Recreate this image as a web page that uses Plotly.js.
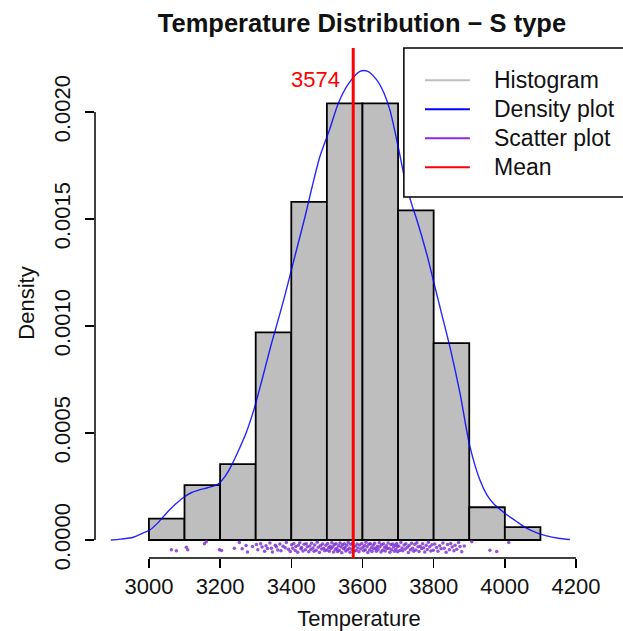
<!DOCTYPE html>
<html>
<head>
<meta charset="utf-8">
<script src="https://cdn.plot.ly/plotly-3.0.1.min.js"></script>
<style>html,body{margin:0;padding:0;background:#fff;}#chart{width:623px;height:631px;}</style>
</head>
<body>
<div id="chart"></div>
<script>
// ---------- DATA ----------
const binStarts = [3000, 3100, 3200, 3300, 3400, 3500, 3600, 3700, 3800, 3900, 4000];
const binWidth = 100;
const binDensity = [0.0001, 0.000256, 0.000355, 0.00097, 0.00158, 0.00204, 0.00204, 0.00154, 0.00092, 0.000153, 0.00006];

const densityX = [2893, 2920, 2956, 2980, 3002, 3025, 3049, 3075, 3100, 3120, 3142, 3165, 3193, 3215, 3235, 3255, 3273, 3296, 3320, 3343, 3360, 3380, 3400, 3420, 3440, 3457, 3480, 3508, 3532, 3560, 3593, 3615, 3640, 3660, 3677, 3700, 3720, 3740, 3752, 3780, 3804, 3825, 3846, 3874, 3902, 3930, 3950, 3968, 4000, 4030, 4061, 4090, 4117, 4150, 4183];
const densityY = [0, 0.000004, 0.000013, 0.00003, 0.000046, 0.00008, 0.000125, 0.000168, 0.000202, 0.000222, 0.000234, 0.000244, 0.00026, 0.0003, 0.000358, 0.00043, 0.0005, 0.000615, 0.000763, 0.00091, 0.00101, 0.00113, 0.00126, 0.00139, 0.00152, 0.00164, 0.00179, 0.00192, 0.00204, 0.00213, 0.00219, 0.00219, 0.00215, 0.00209, 0.00201, 0.00184, 0.00168, 0.00156, 0.0015, 0.00134, 0.00118, 0.00104, 0.0009, 0.000686, 0.000436, 0.00028, 0.00021, 0.000171, 0.000125, 0.00009, 0.000055, 0.000033, 0.000019, 0.000008, 0.000002];

const scatterT = [
  3063, 3077,
  3105, 3109, 3156, 3161, 3198,
  3204, 3240, 3254, 3262, 3273, 3277, 3291,
  3302, 3306, 3314, 3318, 3325, 3329, 3333, 3340, 3344, 3347, 3355, 3358, 3362, 3368, 3371, 3377, 3383, 3386, 3392, 3397,
  3401, 3404, 3407, 3411, 3413, 3418, 3420, 3424, 3427, 3429, 3433, 3436, 3440, 3442, 3445, 3449, 3452, 3455, 3457, 3461, 3464, 3466, 3470, 3473, 3476, 3479, 3482, 3485, 3488, 3491, 3494, 3497,
  3500, 3502, 3505, 3507, 3509, 3512, 3514, 3517, 3519, 3521, 3524, 3526, 3528, 3530, 3533, 3535, 3537, 3540, 3542, 3544, 3547, 3549, 3551, 3553, 3556, 3558, 3560, 3563, 3565, 3567, 3570, 3572, 3575, 3577, 3580, 3582, 3585, 3587, 3590, 3592, 3595, 3598,
  3601, 3603, 3606, 3608, 3610, 3613, 3615, 3618, 3620, 3622, 3625, 3627, 3630, 3632, 3634, 3637, 3639, 3642, 3644, 3647, 3649, 3652, 3654, 3657, 3659, 3662, 3664, 3667, 3669, 3672, 3675, 3677, 3680, 3682, 3685, 3687, 3690, 3692, 3694, 3696, 3698, 3699,
  3702, 3705, 3708, 3711, 3713, 3717, 3720, 3722, 3726, 3729, 3731, 3735, 3738, 3741, 3744, 3747, 3750, 3753, 3756, 3759, 3762, 3766, 3769, 3772, 3775, 3779, 3782, 3785, 3789, 3792, 3795, 3799,
  3803, 3808, 3812, 3817, 3821, 3826, 3830, 3835, 3839, 3844, 3848, 3852, 3857, 3860, 3865, 3870, 3874, 3879, 3886,
  3907, 3958, 3977,
  4011
];
// vertical jitter of the scatter strip, in units of 1e-5 density
const scatterJitterE5 = [
  4.5, 5.0,
  3.4, 4.6, 1.8, 0.8, 4.5,
  4.9, 3.8, 1.2, 4.1, 2.6, 5.6, 3.0,
  2.1, 4.5, 1.8, 3.3, 5.2, 2.7, 4.0, 1.4, 3.8, 5.6, 2.4, 3.1, 4.7, 1.9, 5.0, 2.9, 3.6, 1.2, 4.3, 5.4,
  2.2, 3.9, 1.6, 4.9, 3.0, 5.7, 2.5, 1.3, 4.1, 3.5, 5.1, 2.0, 4.6, 1.7, 3.2, 5.5, 2.8, 4.4, 1.5, 3.7, 5.3, 2.3, 4.8, 1.1, 3.4, 5.8, 2.6, 4.2, 1.9, 3.9, 5.0, 2.4,
  4.7, 1.6, 3.6, 5.2, 2.9, 4.0, 1.3, 3.1, 5.6, 2.1, 4.4, 1.8, 3.8, 5.4, 2.7, 4.9, 1.4, 3.3, 5.9, 2.2, 4.1, 1.7, 3.5, 5.1, 2.5, 4.6, 1.2, 3.9, 5.7, 2.0, 4.3, 1.5, 3.0, 5.3, 2.8, 4.8, 1.9, 3.7, 5.5, 2.3, 4.2, 1.6,
  3.4, 5.0, 2.6, 4.5, 1.1, 3.2, 5.8, 2.0, 4.7, 1.8, 3.6, 5.4, 2.4, 4.1, 1.5, 3.9, 5.2, 2.9, 4.4, 1.3, 3.1, 5.6, 2.2, 4.8, 1.7, 3.5, 5.1, 2.7, 4.0, 1.4, 3.8, 5.7, 2.1, 4.6, 1.9, 3.3, 5.3, 2.5, 4.3, 1.6, 3.0, 5.5,
  2.8, 4.9, 1.2, 3.7, 5.0, 2.3, 4.2, 1.8, 3.4, 5.8, 2.6, 4.5, 1.5, 3.9, 5.2, 2.0, 4.7, 1.3, 3.1, 5.4, 2.9, 4.0, 1.7, 3.6, 5.6, 2.4, 4.4, 1.1, 3.2, 5.1, 2.2, 4.8,
  1.9, 3.5, 5.3, 2.7, 4.1, 1.4, 3.8, 5.7, 2.1, 4.6, 1.6, 3.3, 5.0, 2.5, 4.3, 1.2, 3.0, 5.5, 2.8,
  0.8, 4.8, 5.4,
  1.2
];

const meanValue = 3574;
const meanLabel = '3574';
const meanLabelY = 0.00215;

const xTicks = [3000, 3200, 3400, 3600, 3800, 4000, 4200];
const yTicks = [0, 0.0005, 0.0010, 0.0015, 0.0020];
const yTickText = ['0.0000', '0.0005', '0.0010', '0.0015', '0.0020'];

const legendLabels = ['Histogram', 'Density plot', 'Scatter plot', 'Mean'];
const legendColors = ['#BEBEBE', '#0000FF', '#8A2BE2', '#FF0000'];

const titleText = '<b>Temperature Distribution \u2212 S type</b>';
const xTitle = 'Temperature';
const yTitle = 'Density';

// ---------- TRACES ----------
const FONT = 'Liberation Sans, Arial, sans-serif';
const binCenters = binStarts.map(s => s + binWidth / 2);
const scatterY = scatterJitterE5.map(v => -v * 1e-5);

const traces = [
  {
    type: 'bar', x: binCenters, y: binDensity, width: binWidth,
    marker: {color: '#BEBEBE', line: {color: '#000', width: 1.8}},
    hoverinfo: 'skip', showlegend: false
  },
  {
    type: 'scatter', mode: 'lines', x: densityX, y: densityY,
    line: {color: 'rgba(0,0,255,0.85)', width: 1.4, shape: 'spline', smoothing: 0.8},
    hoverinfo: 'skip', showlegend: false
  },
  {
    type: 'scatter', mode: 'markers', x: scatterT, y: scatterY,
    marker: {color: 'rgba(120,40,210,0.8)', size: 3.5},
    hoverinfo: 'skip', showlegend: false
  }
];

// ---------- LAYOUT ----------
const shapes = [];
const annotations = [];

// R-style axis lines spanning only the tick range
shapes.push({type: 'line', xref: 'x', yref: 'paper', x0: xTicks[0], x1: xTicks[xTicks.length - 1], y0: 0, y1: 0, line: {color: '#000', width: 1.5}});
shapes.push({type: 'line', xref: 'paper', yref: 'y', x0: 0, x1: 0, y0: yTicks[0], y1: yTicks[yTicks.length - 1], line: {color: '#000', width: 1.5}});

// mean line
shapes.push({type: 'line', xref: 'x', yref: 'paper', x0: meanValue, x1: meanValue, y0: 0, y1: 1, line: {color: '#FF0000', width: 3}});
annotations.push({xref: 'x', yref: 'y', x: meanValue, y: meanLabelY, text: meanLabel, showarrow: false, xanchor: 'right', yanchor: 'middle', xshift: -11, font: {family: FONT, size: 22, color: '#FF0000'}});

// legend box
const legX0 = 0.585, legY0 = 0.708;
shapes.push({type: 'rect', xref: 'paper', yref: 'paper', x0: legX0, x1: 1.1, y0: legY0, y1: 1, fillcolor: '#fff', line: {color: '#000', width: 1.5}, layer: 'above'});
const rowY = [0.937, 0.880, 0.823, 0.766];
legendLabels.forEach((lab, i) => {
  shapes.push({type: 'line', xref: 'paper', yref: 'paper', x0: 0.625, x1: 0.710, y0: rowY[i], y1: rowY[i], line: {color: legendColors[i], width: 2}, layer: 'above'});
  annotations.push({xref: 'paper', yref: 'paper', x: 0.752, y: rowY[i], text: lab, showarrow: false, xanchor: 'left', yanchor: 'middle', font: {family: FONT, size: 23, color: '#111'}});
});

const layout = {
  width: 623, height: 631,
  margin: {l: 95, r: 0, t: 48, b: 73, pad: 0},
  paper_bgcolor: '#fff', plot_bgcolor: '#fff',
  showlegend: false,
  bargap: 0,
  font: {family: FONT, size: 22, color: '#111'},
  title: {text: titleText, x: 0.581, xref: 'container', xanchor: 'center', y: 0.9636, yref: 'container', yanchor: 'middle', font: {family: FONT, size: 25.5, color: '#111'}},
  xaxis: {
    range: [2848.5, 4332], showgrid: false, zeroline: false, showline: false,
    tickmode: 'array', tickvals: xTicks, ticktext: xTicks.map(String),
    ticks: 'outside', ticklen: 9, tickwidth: 1.5, tickcolor: '#000',
    tickfont: {family: FONT, size: 22, color: '#111'},
    title: {text: xTitle, standoff: 15, font: {family: FONT, size: 22, color: '#111'}},
    automargin: false
  },
  yaxis: {
    range: [-0.0000841, 0.002299], showgrid: false, zeroline: false, showline: false,
    tickmode: 'array', tickvals: yTicks, ticktext: yTickText, tickangle: -90,
    ticks: 'outside', ticklen: 9, tickwidth: 1.5, tickcolor: '#000',
    ticklabelstandoff: 6,
    tickfont: {family: FONT, size: 22, color: '#111'},
    title: {text: yTitle, standoff: 9, font: {family: FONT, size: 22, color: '#111'}},
    automargin: false
  },
  shapes: shapes,
  annotations: annotations
};

Plotly.newPlot('chart', traces, layout, {displayModeBar: false, staticPlot: true});
</script>
</body>
</html>
